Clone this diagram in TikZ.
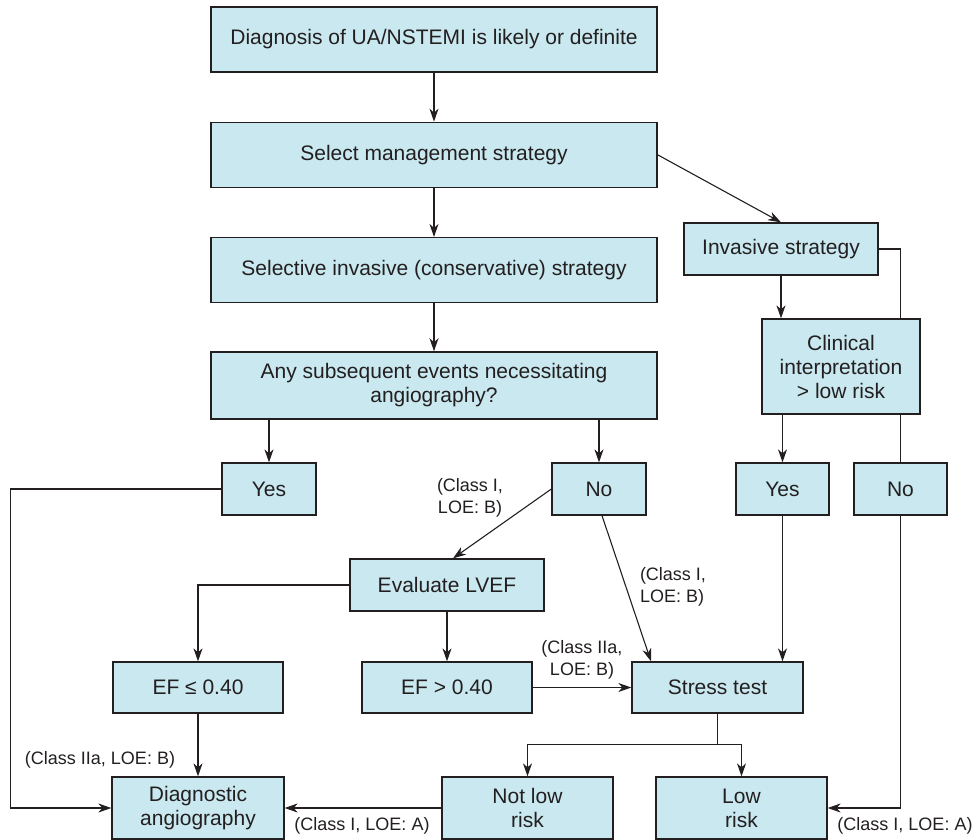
\documentclass[tikz,border=0pt]{standalone}
\usepackage{fontspec}
\setmainfont{Liberation Sans}
\usetikzlibrary{arrows.meta, positioning, backgrounds}
\definecolor{boxfill}{HTML}{C9E8EF}
\definecolor{ink}{HTML}{231F20}

\begin{document}
\begin{tikzpicture}[x=1pt, y=-1pt,
        flowbox/.style={draw=ink, line width=1.3pt, fill=boxfill, align=center, text=ink, inner sep=0pt, font=\fontsize{21}{24}\selectfont},
        wide/.style={flowbox, minimum width=446pt, minimum height=65pt},
        choice/.style={flowbox, minimum width=94pt, minimum height=52pt},
        result/.style={flowbox, minimum width=171pt, minimum height=51pt},
        note/.style={align=center, text=ink, inner sep=0pt, font=\fontsize{18}{22}\selectfont},
        arrow/.style={draw=ink, line width=1.1pt, -{Stealth[length=13pt, width=9pt, inset=4pt]}},
        link/.style={draw=ink, line width=1.1pt}
    ]
        \useasboundingbox (0,0) rectangle (975,840);

        % main column
        \node[wide] (diag) at (434,39.5) {Diagnosis of UA/NSTEMI is likely or definite};
        \node[wide, below=49pt of diag] (select) {Select management strategy};
        \node[wide, below=49pt of select] (selective) {Selective invasive (conservative) strategy};
        \node[wide, minimum height=67pt, below=48pt of selective] (events) {Any subsequent events necessitating\\angiography?};

        % invasive branch
        \node[flowbox, minimum width=194pt, minimum height=52pt] (invasive) at (781,249) {Invasive strategy};
        \node[flowbox, minimum width=158pt, minimum height=95pt] (clinical) at (841,366.5) {Clinical\\interpretation\\> low risk};

        % yes / no row
        \node[choice] (yesL) at (269,489) {Yes};
        \node[choice] (noM) at (599,489) {No};
        \node[choice, minimum width=93pt] (yesR) at (782.5,489) {Yes};
        \node[choice, minimum width=93pt] (noR) at (900.5,489) {No};

        % evaluation and tests
        \node[flowbox, minimum width=194pt, minimum height=52pt] (lvef) at (447,585) {Evaluate LVEF};
        \node[result, minimum width=170pt] (efle) at (198,687.5) {EF ≤ 0.40};
        \node[result, minimum width=170pt] (efgt) at (447,687.5) {EF > 0.40};
        \node[result] (stress) at (717.5,687.5) {Stress test};

        % outcomes
        \node[result, minimum width=172pt, minimum height=62pt] (diagang) at (198,808) {Diagnostic\\angiography};
        \node[result, minimum height=62pt] (notlow) at (527.5,808) {Not low\\risk};
        \node[result, minimum height=62pt] (low) at (741.5,808) {Low\\risk};

        % recommendation notes
        \node[note] (lvefnote) at (470,498) {(Class I,\\LOE: B)};
        \node[note, align=left] (stressnote) at (673,587) {(Class I,\\LOE: B)};
        \node[note] (efnote) at (582,660) {(Class IIa,\\LOE: B)};
        \node[note] (anginote) at (100,760) {(Class IIa, LOE: B)};
        \node[note] (notlownote) at (362,826) {(Class I, LOE: A)};
        \node[note] (lownote) at (905,826) {(Class I, LOE: A)};

        \draw[arrow] (diag) -- (select);
        \draw[arrow] (select) -- (selective);
        \draw[arrow] (selective) -- (events);
        \draw[arrow] (select.east) -- (invasive.north);
        \draw[arrow] (invasive.south) -- (invasive.south |- clinical.north);
        \begin{scope}[on background layer]
            \draw[link] (invasive.east) -| (noR.north);
        \end{scope}

        \draw[arrow] (events.south -| yesL) -- (yesL);
        \draw[arrow] (events.south -| noM) -- (noM);
        \draw[arrow] (clinical.south -| yesR) -- (yesR);

        \draw[arrow] (yesL.west) -- ++(-211,0) |- (diagang.west);
        \draw[arrow] (noM.west) -- ([xshift=6pt]lvef.north);
        \draw[arrow] (lvef) -- (efgt);
        \draw[arrow] (lvef.west) -| (efle.north);
        \draw[arrow] (efle) -- (diagang);
        \draw[arrow] (efgt) -- (stress);
        \draw[arrow] ([xshift=3pt]noM.south) -- ([xshift=-66.5pt]stress.north);
        \draw[arrow] (yesR) -- (yesR |- stress.north);

        \draw[arrow] (stress.south) -- ++(0,31) -| (notlow.north);
        \draw[arrow] (stress.south) -- ++(0,31) -| (low.north);
        \draw[arrow] (notlow) -- (diagang);
        \draw[arrow] (noR.south) |- (low.east);
    \end{tikzpicture}
\end{document}
